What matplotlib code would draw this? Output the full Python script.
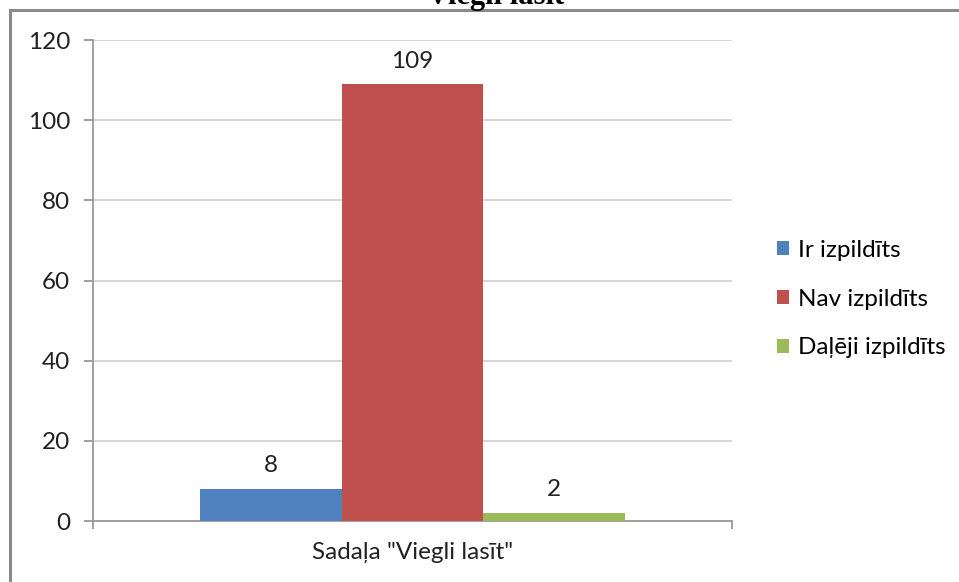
#!/usr/bin/env python3
"""Grouped bar chart: Sadaļa "Viegli lasīt"."""

import matplotlib

matplotlib.use("Agg")
import matplotlib.pyplot as plt
from matplotlib.patches import Rectangle

TITLE = "Viegli lasīt"
CATEGORIES = ['Sadaļa "Viegli lasīt"']
SERIES = ["Ir izpildīts", "Nav izpildīts", "Daļēji izpildīts"]
VALUES = [8, 109, 2]
COLORS = ["#4F81BD", "#C0504D", "#9BBB59"]
Y_TICKS = [0, 20, 40, 60, 80, 100, 120]

FS = 17.5
plt.rcParams["font.family"] = ["Lato", "DejaVu Sans"]

fig = plt.figure(figsize=(9.59, 5.82), dpi=100)
ax = fig.add_axes([93 / 959, 1 - 521 / 582, (732 - 93) / 959, (521 - 40) / 582])

# outer frame (only top and left edge fall inside the picture)
fig.patches.append(
    Rectangle((10 / 959, -0.1), 1.2, 1 - 10 / 582 + 0.1, transform=fig.transFigure,
              fill=False, edgecolor="#8a8a8a", linewidth=2.2, zorder=0)
)
fig.text(496 / 959, 1 - 4 / 582, TITLE, ha="center", va="baseline",
         fontsize=22, fontweight="bold", family="Liberation Serif")

width = 0.2215
for i, (name, val, col) in enumerate(zip(SERIES, VALUES, COLORS)):
    bars = ax.bar([(i - 1) * width], [val], width=width, color=col, label=name,
                  zorder=3)
    ax.bar_label(bars, padding=9, fontsize=FS, color="#222222")

ax.set_xlim(-0.5, 0.5)
ax.set_ylim(0, 120)
ax.set_yticks(Y_TICKS)
ax.yaxis.grid(True, color="#cfcfcf", linewidth=1.2, zorder=0)
ax.set_axisbelow(True)

ax.set_xticks([-0.5, 0.5])
ax.set_xticklabels(["", ""])
ax.set_xticks([0], minor=True)
ax.set_xticklabels(CATEGORIES, minor=True, fontsize=FS, color="#222222")
ax.tick_params(axis="x", which="minor", length=0, pad=15)
ax.tick_params(axis="x", which="major", length=6, width=1.3, color="#9a9a9a")
ax.tick_params(axis="y", length=6.5, width=1.3, color="#9a9a9a", labelsize=FS,
               labelcolor="#222222", pad=10)

for side in ("top", "right"):
    ax.spines[side].set_visible(False)
for side in ("left", "bottom"):
    ax.spines[side].set_color("#9a9a9a")
    ax.spines[side].set_linewidth(1.3)

ax.legend(loc="center left", bbox_to_anchor=(755 / 959, 1 - 299 / 582),
          bbox_transform=fig.transFigure, frameon=False, fontsize=FS,
          handlelength=0.5, handleheight=0.5, handletextpad=0.35,
          labelspacing=1.15)

fig.savefig("out.png", dpi=100)
